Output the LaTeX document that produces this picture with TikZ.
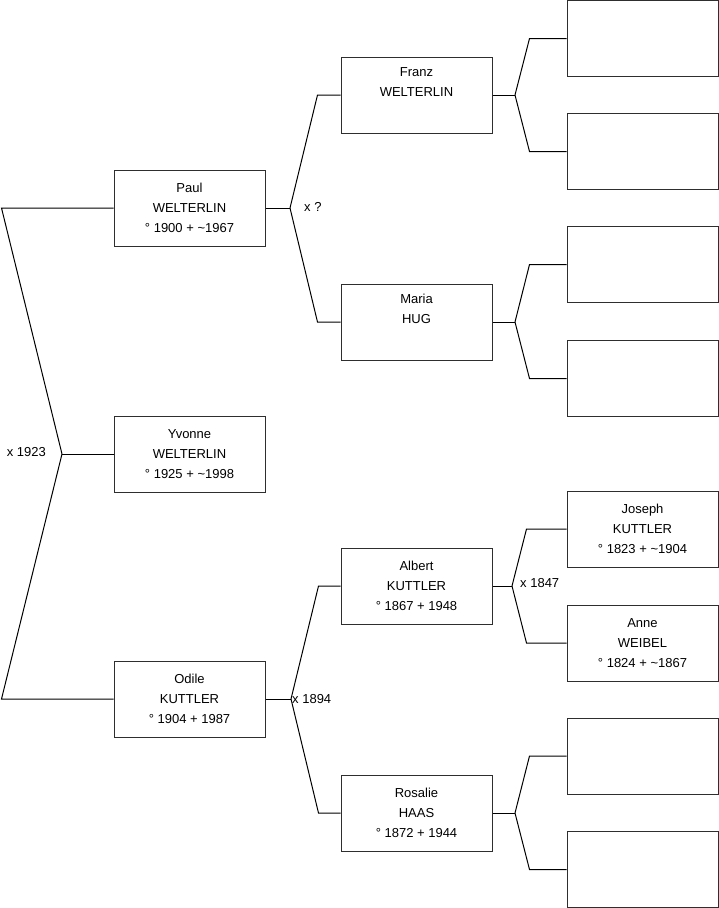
\documentclass[tikz,border=0pt]{standalone}
\usepackage{fontspec}
\setmainfont{Liberation Sans}
\usetikzlibrary{positioning}
\definecolor{boxgray}{HTML}{2E2E2E}

\begin{document}
\begin{tikzpicture}[
  x=1pt, y=-1pt,
  person/.style={
    draw=boxgray, line width=1pt, minimum width=151pt, minimum height=76pt,
    inner sep=0pt, align=center, font=\fontsize{13}{20}\selectfont
  },
  lbl/.style={font=\fontsize{13}{15}\selectfont, inner sep=2pt},
  link/.style={line width=1pt, black},
]

% Frame of the page
\useasboundingbox (0,0) rectangle (719,908);

% =============================================
% Child
% =============================================
\node[person] (yvonne) at (189.5,454)
  {Yvonne\\WELTERLIN\\° 1925 + \textasciitilde1998};

% =============================================
% Parents
% =============================================
\node[person] (paul) at (189.5,208)
  {Paul\\WELTERLIN\\° 1900 + \textasciitilde1967};
\node[person] (odile) at (189.5,699)
  {Odile\\KUTTLER\\° 1904 + 1987};

% =============================================
% Grandparents
% =============================================
\node[person] (franz) at (416.5,95) {Franz\\WELTERLIN\\\strut};
\node[person] (maria) at (416.5,322) {Maria\\HUG\\\strut};
\node[person] (albert) at (416.5,586)
  {Albert\\KUTTLER\\° 1867 + 1948};
\node[person] (rosalie) at (416.5,813)
  {Rosalie\\HAAS\\° 1872 + 1944};

% =============================================
% Great-grandparents
% =============================================
\node[person] (gg1) at (642.5,38.5) {};
\node[person] (gg2) at (642.5,151.5) {};
\node[person] (gg3) at (642.5,264.5) {};
\node[person] (gg4) at (642.5,378.5) {};
\node[person] (joseph) at (642.5,529)
  {Joseph\\KUTTLER\\° 1823 + \textasciitilde1904};
\node[person] (anne) at (642.5,643)
  {Anne\\WEIBEL\\° 1824 + \textasciitilde1867};
\node[person] (gg7) at (642.5,756) {};
\node[person] (gg8) at (642.5,869.5) {};

% =============================================
% Forks
% =============================================
\coordinate (jyvonne) at (62,454);
\coordinate (jpaul) at (290,208);
\coordinate (jodile) at (291,699);
\coordinate (jfranz) at (515,95);
\coordinate (jmaria) at (515,322);
\coordinate (jalbert) at (512,586);
\coordinate (jrosalie) at (515,813);

% Yvonne -> parents
\draw[link] (yvonne.west) -- (jyvonne);
\draw[link] (jyvonne) -- ([xshift=-112pt]paul.west) -- (paul.west);
\draw[link] (jyvonne) -- ([xshift=-112pt]odile.west) -- (odile.west);
\node[lbl, anchor=east] (m1923) at ([xshift=-14pt,yshift=2pt]jyvonne) {x 1923};

% Paul -> parents
\draw[link] (paul.east) -- (jpaul);
\draw[link] (jpaul) -- ([xshift=-23pt]franz.west) -- (franz.west);
\draw[link] (jpaul) -- ([xshift=-23pt]maria.west) -- (maria.west);
\node[lbl, anchor=west] (mq) at ([xshift=12pt,yshift=1pt]jpaul) {x ?};

% Odile -> parents
\draw[link] (odile.east) -- (jodile);
\draw[link] (jodile) -- ([xshift=-22pt]albert.west) -- (albert.west);
\draw[link] (jodile) -- ([xshift=-22pt]rosalie.west) -- (rosalie.west);
\node[lbl, anchor=west, inner sep=1pt] (m1894) at (jodile) {x 1894};

% Franz, Maria -> parents
\draw[link] (franz.east) -- (jfranz);
\draw[link] (jfranz) -- ([xshift=-37pt]gg1.west) -- (gg1.west);
\draw[link] (jfranz) -- ([xshift=-37pt]gg2.west) -- (gg2.west);
\draw[link] (maria.east) -- (jmaria);
\draw[link] (jmaria) -- ([xshift=-37pt]gg3.west) -- (gg3.west);
\draw[link] (jmaria) -- ([xshift=-37pt]gg4.west) -- (gg4.west);

% Albert -> parents
\draw[link] (albert.east) -- (jalbert);
\draw[link] (jalbert) -- ([xshift=-40pt]joseph.west) -- (joseph.west);
\draw[link] (jalbert) -- ([xshift=-40pt]anne.west) -- (anne.west);
\node[lbl, anchor=west] (m1847) at ([xshift=6pt,yshift=3pt]jalbert) {x 1847};

% Rosalie -> parents
\draw[link] (rosalie.east) -- (jrosalie);
\draw[link] (jrosalie) -- ([xshift=-37pt]gg7.west) -- (gg7.west);
\draw[link] (jrosalie) -- ([xshift=-37pt]gg8.west) -- (gg8.west);

\end{tikzpicture}
\end{document}
